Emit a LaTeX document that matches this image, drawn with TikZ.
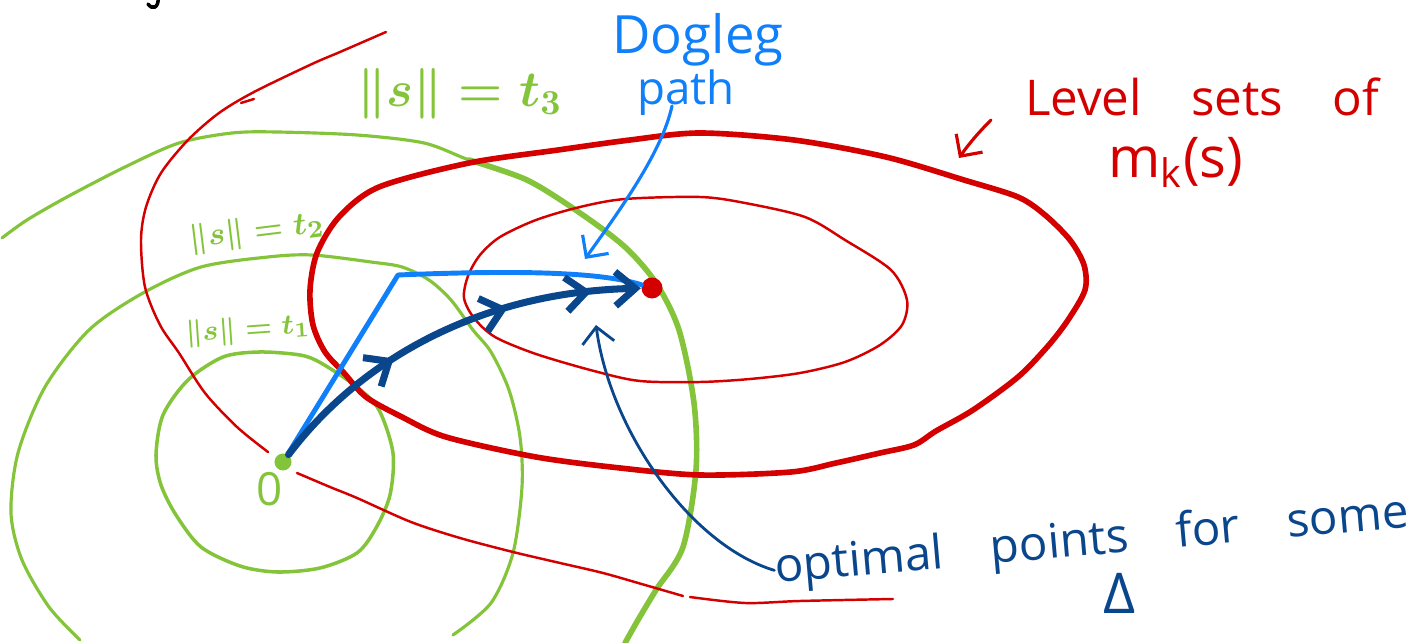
\documentclass[tikz,border=0pt]{standalone}
\usepackage{fontspec}
\setmainfont{Open Sans}
\usetikzlibrary{arrows.meta,decorations.markings}
\definecolor{LvlRed}{RGB}{212,0,0}
\definecolor{NormGreen}{RGB}{132,196,58}
\definecolor{DogBlue}{RGB}{16,128,250}
\definecolor{PathBlue}{RGB}{10,70,140}
\tikzset{
  chev/.tip={Straight Barb[length=2mm,width=3.4mm]},
  vtip/.tip={Straight Barb[length=1.6mm,width=3.2mm]},
  lvl thin/.style={draw=LvlRed,line width=0.7pt,line cap=round},
  lvl thick/.style={draw=LvlRed,line width=1.6pt,line cap=round},
  norm ring/.style={draw=NormGreen,line width=1pt,line cap=round},
  ptdot/.style={circle,inner sep=0pt,minimum size=1.7mm},
  normtext/.style={inner sep=0pt,text=NormGreen},
  hand/.style={inner sep=0pt,anchor=base},
  barb/.style={-vtip,line width=0.9pt,line cap=round},
  dogleg/.style={draw=DogBlue,line width=1.4pt,line cap=round,line join=round},
  optpath/.style={
    draw=PathBlue,
    line width=2pt,
    line cap=round,
    -chev,
    postaction={decorate},
    decoration={markings,
      mark=at position 0.355 with {\arrow{chev}},
      mark=at position 0.665 with {\arrow{chev}},
      mark=at position 0.877 with {\arrow{chev}}}
  }
}

\begin{document}
\begin{tikzpicture}[x=0.01cm,y=-0.01cm]
\useasboundingbox (0,0) rectangle (1411,643);

% stray pen mark at the top edge
\draw[line width=1pt,line cap=round] (158,-2) .. controls (159,8) and (152,10) .. (148,4);

% Norm balls ||s|| = t1, t2, t3
\draw[norm ring] plot[smooth cycle] coordinates {(259,352) (300,355) (321,363) (357,387) (379,410) (393,453) (390,495) (376,528) (357,553) (320,568) (277,572) (240,566) (201,547) (176,515) (161,485) (156,455) (163,415) (188,380) (223,357)};
\draw[norm ring,line width=0.9pt] plot[smooth] coordinates {(80,640) (49,607) (22,560) (11,513) (18,453) (45,387) (89,330) (143,293) (201,267) (268,257) (312,255) (371,262) (402,267) (429,280) (451,300) (473,330) (491,352) (509,390) (520,437) (522,487) (513,553) (491,603) (453,635)};
\draw[norm ring,line width=0.9pt] plot[smooth] coordinates {(2,238) (27,220) (67,197) (125,167) (179,143) (232,133) (277,132) (357,135) (424,143) (469,160) (527,180)};
\draw[norm ring,line width=1.6pt] plot[smooth] coordinates {(469,160) (527,180) (580,213) (625,247) (656,283) (679,330) (694,403) (696,470) (683,547) (656,590) (638,620) (625,643)};

% Level sets of m_k(s)
\draw[lvl thin] plot[smooth] coordinates {(386,32) (340,52) (312,64) (254,92) (219,113) (188,140) (161,173) (146,207) (141,240) (145,287) (160,325) (179,353) (205,393) (237,427) (268,452)};
\draw[lvl thin] (241,103) -- (254,99);
\draw[lvl thin] plot[smooth] coordinates {(297,473) (330,487) (357,498) (411,522) (460,538) (513,552) (560,563) (603,573) (645,585) (683,596)};
\draw[lvl thin] plot[smooth] coordinates {(690,597) (745,603) (800,601) (893,599)};
\draw[lvl thick] plot[smooth cycle] coordinates {(914,445) (936,431) (973,410) (1018,377) (1048,346) (1068,320) (1085,290) (1084,265) (1070,240) (1045,215) (1018,197) (964,180) (886,157) (794,140) (700,133) (630,140) (558,150) (469,163) (379,187) (339,217) (317,253) (310,290) (313,325) (325,352) (344,373) (366,397) (402,417) (446,437) (536,457) (620,468) (700,475) (791,472) (836,463) (880,453)};
\draw[lvl thin] plot[smooth cycle] coordinates {(700,197) (745,203) (805,217) (845,240) (891,270) (907,300) (902,325) (880,345) (845,362) (800,373) (750,379) (700,382) (640,381) (594,371) (536,354) (495,337) (474,318) (464,298) (468,276) (480,255) (500,237) (536,220) (580,207) (625,199)};

% origin and optimal point
\node[ptdot,fill=NormGreen] (orig) at (283,462) {};
\node[ptdot,fill=LvlRed,minimum size=2.1mm] (opt) at (652,288) {};
\node[normtext,font=\fontsize{13}{15}\selectfont] (zero) at (270,489) {0};

% dogleg path and the curved path of optimal points
\coordinate (bend) at (398,275);
\draw[dogleg] (orig) -- (bend) .. controls (520,270) and (600,272) .. (opt);
\draw[optpath] (orig) .. controls (360,360) and (480,292) .. (opt);

% radius labels
\node[normtext,font=\boldmath\fontsize{14}{16}\selectfont] (tthree) at (460,94) {$\|s\| = t_3$};
\node[normtext,font=\boldmath\fontsize{9.5}{11}\selectfont,rotate=7] (ttwo) at (257,232) {$\|s\|=t_2$};
\node[normtext,font=\boldmath\fontsize{8.5}{10}\selectfont,rotate=4] (tone) at (248,330) {$\|s\|=t_1$};

% Dogleg path note
\node[hand,text=DogBlue,font=\fontsize{15}{18}\selectfont] (dogword) at (698,54) {Dogleg};
\node[hand,text=DogBlue,font=\fontsize{13}{16}\selectfont] (pathword) at (686,105) {path};
\coordinate (dogtail) at (672,106);
\coordinate (dogtip) at (585,259);
\draw[barb,DogBlue] (dogtail) .. controls (662,152) and (620,210) .. (dogtip);

% Level set note
\node[hand,text=LvlRed,font=\fontsize{14}{17}\selectfont] (lvlword) at (1202,116) {Level\quad sets\quad of};
\node[hand,text=LvlRed,font=\fontsize{16}{19}\selectfont] (mkword) at (1176,178) {m\textsubscript{k}(s)};
\coordinate (lvltail) at (991,120);
\coordinate (lvltip) at (959,158);
\draw[barb,LvlRed] (lvltail) .. controls (978,133) and (968,145) .. (lvltip);

% optimal points note
\node[hand,text=PathBlue,font=\fontsize{13.5}{16}\selectfont,rotate=5] (optword) at (1093,555) {optimal\quad points\quad for\quad some};
\node[hand,text=PathBlue,font=\fontsize{16}{18}\selectfont] (deltaword) at (1120,614) {Δ};
\coordinate (opttip) at (596,325);
\draw[barb,PathBlue,line width=0.8pt] (optword.west) .. controls (690,545) and (610,430) .. (opttip);

\end{tikzpicture}
\end{document}
